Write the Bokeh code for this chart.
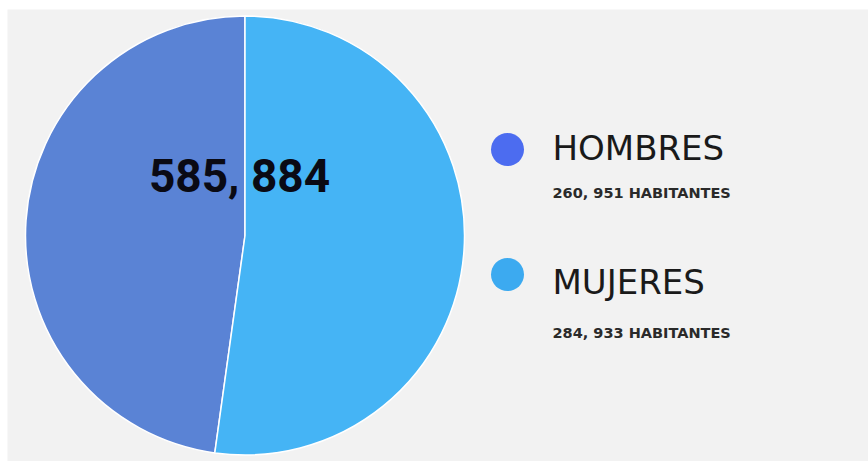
import numpy as np
from bokeh.plotting import figure
from bokeh.models import Range1d, ColumnDataSource
from bokeh.core.properties import value
from bokeh.embed import file_html
from bokeh.resources import INLINE

categories = ["HOMBRES", "MUJERES"]
values = [260951, 284933]
sub_labels = ["260, 951 HABITANTES", "284, 933 HABITANTES"]
total_label = "585, 884"
slice_colors = ["#5a83d5", "#45b4f5"]
dot_colors = ["#4c6cf0", "#3caaf0"]

W, H = 868, 461
p = figure(width=W, height=H, x_range=Range1d(0, W), y_range=Range1d(0, H),
           output_backend="svg", toolbar_location=None, min_border=0)
p.axis.visible = False
p.grid.visible = False
p.outline_line_color = None
p.background_fill_color = "white"
p.border_fill_color = "white"

def Y(py):
    return H - py

# gray panel
p.quad(left=[7], right=[W], top=[Y(9)], bottom=[0], fill_color="#f2f2f2", line_color=None)

# pie
vals = np.array(values, dtype=float)
frac = vals / vals.sum()
angles = frac * 2 * np.pi
start = np.pi / 2 + np.concatenate([[0], np.cumsum(angles)[:-1]])
end = start + angles
src = ColumnDataSource(dict(start=start, end=end, color=slice_colors, cat=categories))
p.wedge(x=244.5, y=Y(235), radius=219.5, start_angle="start", end_angle="end",
        fill_color="color", line_color="white", line_width=1.5, source=src)

# center total
p.text(x=[239], y=[Y(175)], text=[total_label], text_font=value("Roboto"),
       text_font_style="bold", text_font_size="46px", text_color="#0a0a14",
       text_align="center", text_baseline="alphabetic")

# legend
dot_y = [149, 274]
title_base = [147, 281]
sub_base = [192, 332]
p.circle(x=[507, 507], y=[Y(v) for v in dot_y], radius=16.5,
         fill_color=dot_colors, line_color=None)
p.text(x=[552, 552], y=[Y(v) for v in title_base], text=categories,
       text_font=value("DejaVu Sans"), text_font_size="34px", text_color="#1a1a1a",
       text_align="left", text_baseline="alphabetic")
p.text(x=[552, 552], y=[Y(v) for v in sub_base], text=sub_labels,
       text_font=value("DejaVu Sans"), text_font_style="bold", text_font_size="14.5px",
       text_color="#2a2a2a", text_align="left", text_baseline="alphabetic")

open("out.html", "w").write(file_html(p, INLINE))
